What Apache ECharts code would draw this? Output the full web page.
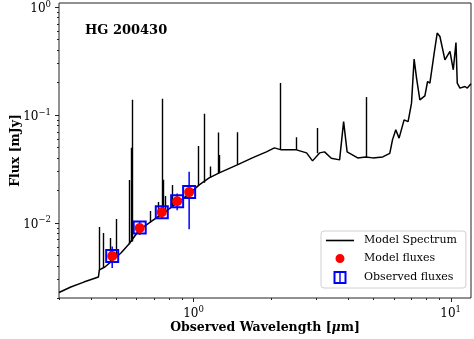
<!DOCTYPE html>
<html>
<head>
<meta charset="utf-8">
<script src="https://cdn.jsdelivr.net/npm/echarts@6/dist/echarts.min.js"></script>
<style>
  html, body { margin: 0; padding: 0; background: #fff; }
  #chart { width: 474px; height: 339px; }
</style>
</head>
<body>
<div id="chart"></div>
<script>
// model spectrum continuum: observed wavelength [um] / flux [mJy]
var specWave = [0.30, 0.3334, 0.3747, 0.4269, 0.4307, 0.4524, 0.4818, 0.5224, 0.5614, 0.614,
  0.690, 0.7554, 0.804, 0.8637, 0.9621, 1.0525, 1.151, 1.260, 1.480, 1.694,
  1.921, 2.064, 2.198, 2.515, 2.752, 2.904, 3.093, 3.234, 3.435, 3.70,
  3.836, 3.958, 4.350, 4.674, 4.977, 5.445, 5.799, 5.941, 6.120, 6.303,
  6.592, 6.833, 7.045, 7.211, 7.369, 7.591, 7.94, 8.135, 8.305, 8.63,
  8.866, 9.085, 9.502, 9.94, 10.24, 10.49, 10.61, 10.87, 11.37, 11.61, 12.0];
var specFlux = [0.00225, 0.00253, 0.00281, 0.00313, 0.00364, 0.00388, 0.00441, 0.00523, 0.00634, 0.0085,
  0.01037, 0.01205, 0.0134, 0.01524, 0.01847, 0.02239, 0.0260, 0.02894, 0.03434, 0.03988,
  0.04534, 0.04939, 0.04732, 0.04732, 0.04437, 0.03741, 0.04437, 0.04534, 0.03963, 0.03821,
  0.0866, 0.04534, 0.03988, 0.04074, 0.03988, 0.04074, 0.04389, 0.0586, 0.07257, 0.06076,
  0.0899, 0.0866, 0.1284, 0.329, 0.2192, 0.1378, 0.1501, 0.2038, 0.197, 0.374,
  0.5735, 0.5333, 0.324, 0.387, 0.2617, 0.469, 0.197, 0.177, 0.1832, 0.177, 0.194];

// narrow emission lines of the model spectrum
var lineWave = [0.4305, 0.4469, 0.4738, 0.5013, 0.5615, 0.5728, 0.5783, 0.6787, 0.7277, 0.758,
  0.7604, 0.7757, 0.824, 1.0475, 1.1008, 1.1607, 1.2509, 1.263, 1.4805, 2.166,
  2.502, 3.03, 4.68];
var lineBase = [0.0036, 0.0038, 0.0043, 0.0050, 0.0063, 0.0066, 0.0067, 0.0101, 0.0112, 0.0121,
  0.0122, 0.0125, 0.0138, 0.0220, 0.0235, 0.0262, 0.0287, 0.0289, 0.0343, 0.0475,
  0.0473, 0.0440, 0.0400];
var linePeak = [0.00912, 0.00802, 0.00721, 0.01082, 0.0249, 0.0494, 0.1378, 0.01284, 0.01557, 0.1408,
  0.02494, 0.0177, 0.0224, 0.0515, 0.1022, 0.0331, 0.0685, 0.0425, 0.0691, 0.197,
  0.0621, 0.0757, 0.146];

// photometry
var bandWave = [0.483, 0.618, 0.753, 0.864, 0.962];
var modelFlux = [0.0049, 0.0089, 0.0125, 0.0158, 0.0192];
var obsFlux = [0.0049, 0.0090, 0.0125, 0.0158, 0.0192];
var obsErr = [0.0011, 0.0013, 0.0016, 0.0028, 0.0105];

// axis ranges and ticks
var xRange = [0.3, 12];
var yRange = [0.002, 1.09];
var xMajorTicks = [1, 10];
var xMinorTicks = [0.3, 0.4, 0.5, 0.6, 0.7, 0.8, 0.9, 2, 3, 4, 5, 6, 7, 8, 9];
var yMajorTicks = [0.01, 0.1, 1];
var yMinorTicks = [0.002, 0.003, 0.004, 0.005, 0.006, 0.007, 0.008, 0.009,
  0.02, 0.03, 0.04, 0.05, 0.06, 0.07, 0.08, 0.09,
  0.2, 0.3, 0.4, 0.5, 0.6, 0.7, 0.8, 0.9];

var FONT = 'DejaVu Serif';

function powLabel(v) {
  var e = Math.log10(v);
  var r = Math.round(e);
  if (Math.abs(e - r) > 1e-6) return '';
  return '{b|10}{s|' + (r < 0 ? '\u2212' + (-r) : r) + '}';
}
var powRich = {
  b: { fontFamily: FONT, fontSize: 12, lineHeight: 18, color: '#000' },
  s: { fontFamily: FONT, fontSize: 8.5, lineHeight: 10, verticalAlign: 'top', color: '#000' }
};

var chart = echarts.init(document.getElementById('chart'));

chart.setOption({
  animation: false,
  backgroundColor: '#fff',
  title: {
    text: 'HG 200430',
    left: 80,
    top: 19,
    textStyle: { fontFamily: FONT, fontWeight: 'bold', fontSize: 13, color: '#000' }
  },
  grid: {
    left: 59, top: 3, width: 412, height: 295,
    outerBoundsMode: 'none',
    containLabel: false,
    show: true, borderColor: '#222', borderWidth: 1, backgroundColor: 'transparent'
  },
  legend: {
    orient: 'vertical',
    left: 321,
    top: 231,
    backgroundColor: 'rgba(255,255,255,0.8)',
    borderColor: '#d0d0d0',
    borderWidth: 1,
    borderRadius: 3,
    padding: [4, 9, 4, 5],
    itemGap: 6,
    itemWidth: 28,
    itemHeight: 13,
    textStyle: { fontFamily: FONT, fontSize: 11, color: '#000', padding: [0, 0, 0, 5] },
    data: [
      { name: 'Model Spectrum', icon: 'path://M0,0L28,0L28,1.6L0,1.6Z' },
      { name: 'Model fluxes', icon: 'path://M0,0L0,0M13,13L13,13M6.5,2A4.5,4.5,0,1,1,6.49,2Z' },
      { name: 'Observed fluxes', icon: 'path://M0,0L13,0L13,13L0,13ZM2,2L2,11L11,11L11,2ZM5.8,0L7.2,0L7.2,13L5.8,13Z' }
    ]
  },
  xAxis: {
    type: 'log',
    min: xRange[0],
    max: xRange[1],
    name: 'Observed Wavelength [{i|\u03bc}m]',
    nameLocation: 'middle',
    nameGap: 23,
    nameMoveOverlap: false,
    nameTextStyle: {
      fontFamily: FONT, fontWeight: 'bold', fontSize: 12.5, color: '#000',
      rich: { i: { fontFamily: FONT, fontStyle: 'italic', fontSize: 12.5, color: '#000' } }
    },
    axisLine: { show: false },
    axisTick: { show: false },
    splitLine: { show: false },
    minorTick: { show: false },
    axisLabel: { margin: 7, formatter: powLabel, rich: powRich }
  },
  yAxis: {
    type: 'log',
    min: yRange[0],
    max: yRange[1],
    name: 'Flux [mJy]',
    nameLocation: 'middle',
    nameRotate: 90,
    nameGap: 37,
    nameMoveOverlap: false,
    nameTextStyle: { fontFamily: FONT, fontWeight: 'bold', fontSize: 12.5, color: '#000' },
    axisLine: { show: false },
    axisTick: { show: false },
    splitLine: { show: false },
    axisLabel: { margin: 8, padding: [4, 0, 0, 0], formatter: powLabel, rich: powRich }
  },
  series: [
    {
      name: 'Model Spectrum',
      type: 'line',
      symbol: 'none',
      showSymbol: false,
      z: 2,
      lineStyle: { color: '#000', width: 1.5 },
      itemStyle: { color: '#000' },
      data: specWave.map(function (w, i) { return [w, specFlux[i]]; })
    },
    {
      name: 'lines',
      type: 'lines',
      coordinateSystem: 'cartesian2d',
      silent: true,
      z: 2,
      lineStyle: { color: '#000', width: 1.4, opacity: 1 },
      data: lineWave.map(function (w, i) {
        return { coords: [[w, lineBase[i]], [w, linePeak[i]]] };
      })
    },
    {
      name: 'Observed fluxes',
      type: 'custom',
      z: 4,
      itemStyle: { color: '#0000ff' },
      encode: { x: 0, y: 1 },
      data: bandWave.map(function (w, i) { return [w, obsFlux[i], obsErr[i]]; }),
      renderItem: function (params, api) {
        var x = api.value(0), y = api.value(1), e = api.value(2);
        var c = api.coord([x, y]);
        var lo = api.coord([x, y - e]);
        var hi = api.coord([x, y + e]);
        return {
          type: 'group',
          children: [
            { type: 'line', shape: { x1: c[0], y1: lo[1], x2: c[0], y2: hi[1] },
              style: { stroke: '#0000ff', lineWidth: 1.5 } },
            { type: 'rect', shape: { x: c[0] - 6, y: c[1] - 6, width: 12, height: 12 },
              style: { stroke: '#0000ff', fill: 'none', lineWidth: 2 } }
          ]
        };
      }
    },
    {
      name: 'Model fluxes',
      type: 'scatter',
      z: 5,
      symbolSize: 10,
      itemStyle: { color: '#ff0000', opacity: 1 },
      data: bandWave.map(function (w, i) { return [w, modelFlux[i]]; })
    },
    {
      name: 'xticks',
      type: 'custom',
      silent: true,
      z: 6,
      encode: { x: 0, y: 1 },
      data: xMajorTicks.map(function (v) { return [v, yRange[0], 1]; })
        .concat(xMinorTicks.map(function (v) { return [v, yRange[0], 0]; })),
      renderItem: function (params, api) {
        var p = api.coord([api.value(0), api.value(1)]);
        var len = api.value(2) ? 4 : 2;
        var px = Math.round(p[0]) + 0.5;
        return { type: 'line', shape: { x1: px, y1: p[1], x2: px, y2: p[1] + len },
          style: { stroke: '#222', lineWidth: 1 } };
      }
    },
    {
      name: 'yticks',
      type: 'custom',
      silent: true,
      z: 6,
      encode: { x: 0, y: 1 },
      data: yMajorTicks.map(function (v) { return [xRange[0], v, 1]; })
        .concat(yMinorTicks.map(function (v) { return [xRange[0], v, 0]; })),
      renderItem: function (params, api) {
        var p = api.coord([api.value(0), api.value(1)]);
        var len = api.value(2) ? 4 : 2;
        var py = Math.round(p[1]) + 0.5;
        return { type: 'line', shape: { x1: p[0] - len, y1: py, x2: p[0], y2: py },
          style: { stroke: '#222', lineWidth: 1 } };
      }
    }
  ]
});
</script>
</body>
</html>
